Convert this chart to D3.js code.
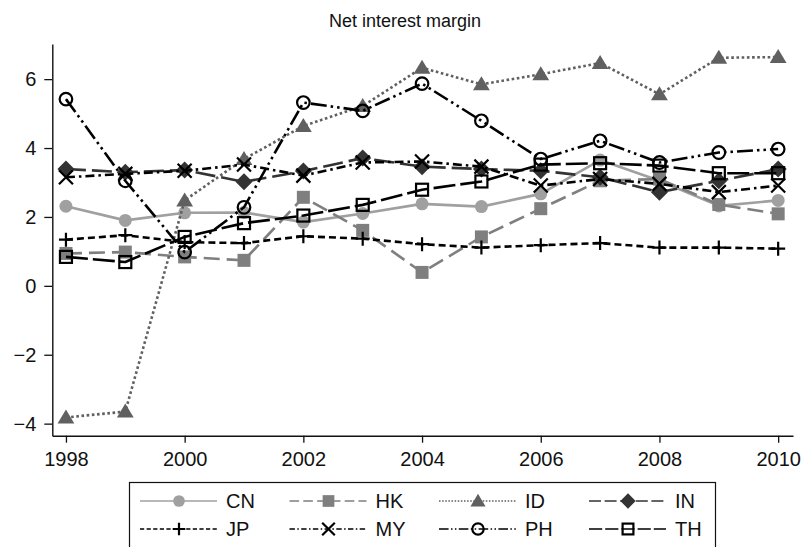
<!DOCTYPE html>
<html>
<head>
<meta charset="utf-8">
<script src="https://cdn.jsdelivr.net/npm/d3@7"></script>
<style>
  html, body { margin: 0; padding: 0; background: #fff; }
  svg { display: block; font-family: "Liberation Sans", Arial, sans-serif; }
</style>
</head>
<body>
<svg id="chart" width="805" height="547"></svg>
<script>
// Net interest margin by economy, 1998–2010 (%)
const years = [1998, 1999, 2000, 2001, 2002, 2003, 2004, 2005, 2006, 2007, 2008, 2009, 2010];
const CN = [2.31, 1.90, 2.12, 2.13, 1.85, 2.10, 2.38, 2.30, 2.67, 3.65, 3.05, 2.32, 2.48];
const HK = [0.94, 0.98, 0.84, 0.74, 2.57, 1.61, 0.39, 1.42, 2.24, 3.05, 3.10, 2.36, 2.09];
const ID = [-3.82, -3.65, 2.48, 3.68, 4.64, 5.22, 6.33, 5.85, 6.14, 6.47, 5.56, 6.62, 6.64];
const IN = [3.39, 3.30, 3.36, 3.02, 3.33, 3.71, 3.46, 3.39, 3.34, 3.15, 2.72, 3.05, 3.39];
const JP = [1.34, 1.47, 1.27, 1.24, 1.44, 1.37, 1.21, 1.11, 1.18, 1.24, 1.11, 1.11, 1.08];
const MY = [3.15, 3.25, 3.34, 3.52, 3.20, 3.58, 3.61, 3.46, 2.91, 3.10, 2.96, 2.72, 2.91];
const PH = [5.42, 3.05, 0.98, 2.28, 5.32, 5.08, 5.87, 4.79, 3.68, 4.21, 3.58, 3.87, 3.97];
const TH = [0.84, 0.69, 1.42, 1.82, 2.04, 2.35, 2.79, 3.03, 3.52, 3.56, 3.49, 3.27, 3.27];

const xTicks = [1998, 2000, 2002, 2004, 2006, 2008, 2010];
const yTicks = [-4, -2, 0, 2, 4, 6];
const seriesNames = ["CN", "HK", "ID", "IN", "JP", "MY", "PH", "TH"];
const seriesValues = [CN, HK, ID, IN, JP, MY, PH, TH];

// Line and marker styling for each series
const styles = {
  CN: { color: "#a0a0a0", dash: null,            marker: "circle",   fill: true },
  HK: { color: "#7f7f7f", dash: "16,7",          marker: "square",   fill: true },
  ID: { color: "#606060", dash: "2.6,2.6",       marker: "triangle", fill: true },
  IN: { color: "#333333", dash: "20,6",          marker: "diamond",  fill: true },
  JP: { color: "#000000", dash: "7,4",           marker: "plus",     fill: false },
  MY: { color: "#000000", dash: "9,4,2.5,4",     marker: "cross",    fill: false },
  PH: { color: "#000000", dash: "16,4,2.5,4,2.5,4", marker: "ocircle", fill: false },
  TH: { color: "#000000", dash: "22,5",          marker: "osquare",  fill: false }
};

const svg = d3.select("#chart");

const x = d3.scaleLinear().domain([1997.77, 2010.25]).range([52.3, 793]);
const y = d3.scaleLinear().domain([-4.35, 7.02]).range([435.7, 44]);

// Title
svg.append("text")
  .attr("x", 405).attr("y", 27)
  .attr("text-anchor", "middle")
  .attr("font-size", 18)
  .attr("fill", "#111")
  .text("Net interest margin");

// Axes
const xAxis = d3.axisBottom(x).tickValues(xTicks).tickFormat(d3.format("d"))
  .tickSize(7).tickPadding(9).tickSizeOuter(0);
const yAxis = d3.axisLeft(y).tickValues(yTicks)
  .tickFormat(d => d < 0 ? "\u2212" + Math.abs(d) : String(d))
  .tickSize(8).tickPadding(8).tickSizeOuter(0);

const gx = svg.append("g").attr("transform", `translate(0,${y.range()[0]})`).call(xAxis);
const gy = svg.append("g").attr("transform", `translate(${x.range()[0]},0)`).call(yAxis);
[gx, gy].forEach(g => {
  g.select(".domain").attr("stroke", "#111").attr("stroke-width", 1.4);
  g.selectAll(".tick line").attr("stroke", "#111").attr("stroke-width", 1.3);
  g.selectAll(".tick text").attr("font-size", 20).attr("fill", "#111")
    .attr("font-family", "'Liberation Sans', Arial, sans-serif");
});

// Marker drawing
function drawMarker(g, type, cx, cy, color, scale) {
  const s = scale || 1;
  switch (type) {
    case "circle":
      g.append("circle").attr("cx", cx).attr("cy", cy).attr("r", 6.5 * s).attr("fill", color);
      break;
    case "square":
      g.append("rect").attr("x", cx - 6.5 * s).attr("y", cy - 6.5 * s)
        .attr("width", 13 * s).attr("height", 13 * s).attr("fill", color);
      break;
    case "triangle": {
      const h = 8 * s;
      g.append("path").attr("d", `M${cx},${cy - h}L${cx + h * 1.05},${cy + h * 0.75}L${cx - h * 1.05},${cy + h * 0.75}Z`)
        .attr("fill", color);
      break;
    }
    case "diamond": {
      const h = 8.5 * s;
      g.append("path").attr("d", `M${cx},${cy - h}L${cx + h},${cy}L${cx},${cy + h}L${cx - h},${cy}Z`)
        .attr("fill", color);
      break;
    }
    case "plus": {
      const h = 7 * s;
      g.append("path").attr("d", `M${cx - h},${cy}H${cx + h}M${cx},${cy - h}V${cy + h}`)
        .attr("stroke", color).attr("stroke-width", 2.2).attr("fill", "none");
      break;
    }
    case "cross": {
      const h = 7 * s;
      g.append("path").attr("d", `M${cx - h},${cy - h}L${cx + h},${cy + h}M${cx - h},${cy + h}L${cx + h},${cy - h}`)
        .attr("stroke", color).attr("stroke-width", 2.2).attr("fill", "none");
      break;
    }
    case "ocircle":
      g.append("circle").attr("cx", cx).attr("cy", cy).attr("r", 6.3 * s)
        .attr("fill", "none").attr("stroke", color).attr("stroke-width", 2.2);
      break;
    case "osquare":
      g.append("rect").attr("x", cx - 6 * s).attr("y", cy - 6 * s)
        .attr("width", 12 * s).attr("height", 12 * s)
        .attr("fill", "none").attr("stroke", color).attr("stroke-width", 2.2);
      break;
  }
}

// Series lines and markers
const line = d3.line().x(d => x(d[0])).y(d => y(d[1]));
const plot = svg.append("g");
seriesNames.forEach((name, i) => {
  const st = styles[name];
  const pts = years.map((yr, j) => [yr, seriesValues[i][j]]);
  const g = plot.append("g");
  g.append("path").datum(pts)
    .attr("d", line)
    .attr("fill", "none")
    .attr("stroke", st.color)
    .attr("stroke-width", 2.6)
    .attr("stroke-dasharray", st.dash)
    .attr("stroke-linejoin", "round");
  pts.forEach(p => drawMarker(g, st.marker, x(p[0]), y(p[1]), st.color, 1));
});

// Legend
const legend = svg.append("g");
legend.append("rect")
  .attr("x", 129.5).attr("y", 482.5)
  .attr("width", 586).attr("height", 80)
  .attr("fill", "#fff").attr("stroke", "#111").attr("stroke-width", 1.2);

const colX = [140, 289.5, 439, 589];
const rowY = [501, 529];
seriesNames.forEach((name, i) => {
  const st = styles[name];
  const cx0 = colX[i % 4];
  const cy = rowY[Math.floor(i / 4)];
  const g = legend.append("g");
  g.append("line")
    .attr("x1", cx0).attr("x2", cx0 + 77)
    .attr("y1", cy).attr("y2", cy)
    .attr("stroke", st.color).attr("stroke-width", 1.7)
    .attr("stroke-dasharray", st.dash ? st.dash.split(",").map(v => +v * 0.6).join(",") : null);
  drawMarker(g, st.marker, cx0 + 39, cy, st.color, 0.9);
  g.append("text")
    .attr("x", cx0 + 86).attr("y", cy)
    .attr("dy", "0.36em")
    .attr("font-size", 20)
    .attr("fill", "#111")
    .text(name);
});
</script>
</body>
</html>
